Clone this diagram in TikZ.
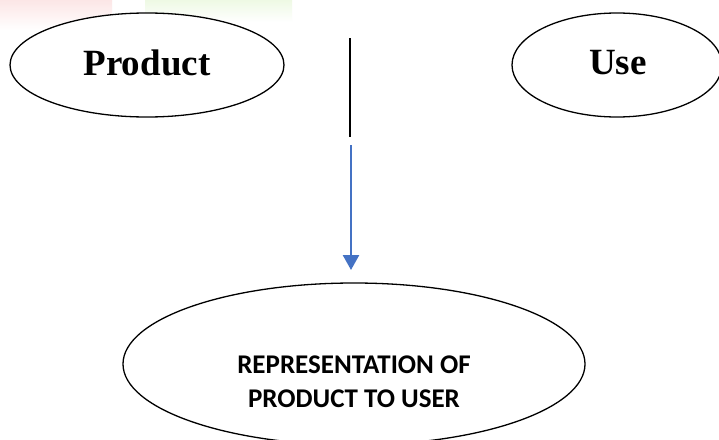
\documentclass[tikz,border=0pt]{standalone}
\usepackage{fontspec}
\setmainfont{Liberation Serif}
\newfontfamily\calfont{Carlito}
\usetikzlibrary{shapes.geometric,arrows.meta}
\definecolor{arrowblue}{RGB}{68,114,196}
\definecolor{wmpink}{RGB}{252,230,230}
\definecolor{wmgreen}{RGB}{238,249,228}
\tikzset{
  oval/.style={draw=black,line width=1.3pt,ellipse,inner sep=0pt,fill=white},
  bigword/.style={font=\fontsize{37}{40}\selectfont\bfseries},
  smallcaps/.style={font=\calfont\fontsize{27}{34}\selectfont\bfseries,align=center}
}
\begin{document}
\begin{tikzpicture}[x=1pt,y=-1pt]
\useasboundingbox (0,0) rectangle (719,439);
\fill[white] (0,0) rectangle (719,439);
% faint watermark
\shade[top color=wmpink,bottom color=white] (0,0) rectangle (112,30);
\shade[top color=wmgreen,bottom color=white] (145,0) rectangle (292,22);
\node[oval,minimum width=274pt,minimum height=104pt] (prod) at (147,65) {};
\node[bigword] (prodt) at (147,63) {Product};
\node[oval,minimum width=210pt,minimum height=104pt] (use) at (617,65) {};
\node[bigword] (uset) at (618,63) {Use};
\node[oval,minimum width=462pt,minimum height=162pt] (rep) at (354,364) {};
\node[smallcaps] (rept) at (354,382) {REPRESENTATION OF\\PRODUCT TO USER};
\coordinate (ltop) at (350,38);
\coordinate (lbot) at (350,137);
\coordinate (astart) at (351,145);
\coordinate (aend) at (351,270);
\draw[line width=1.2pt,black] (ltop) -- (lbot);
\draw[line width=2.5pt,arrowblue,-{Triangle[width=16pt,length=15pt]}] (astart) -- (aend);
\end{tikzpicture}
\end{document}
